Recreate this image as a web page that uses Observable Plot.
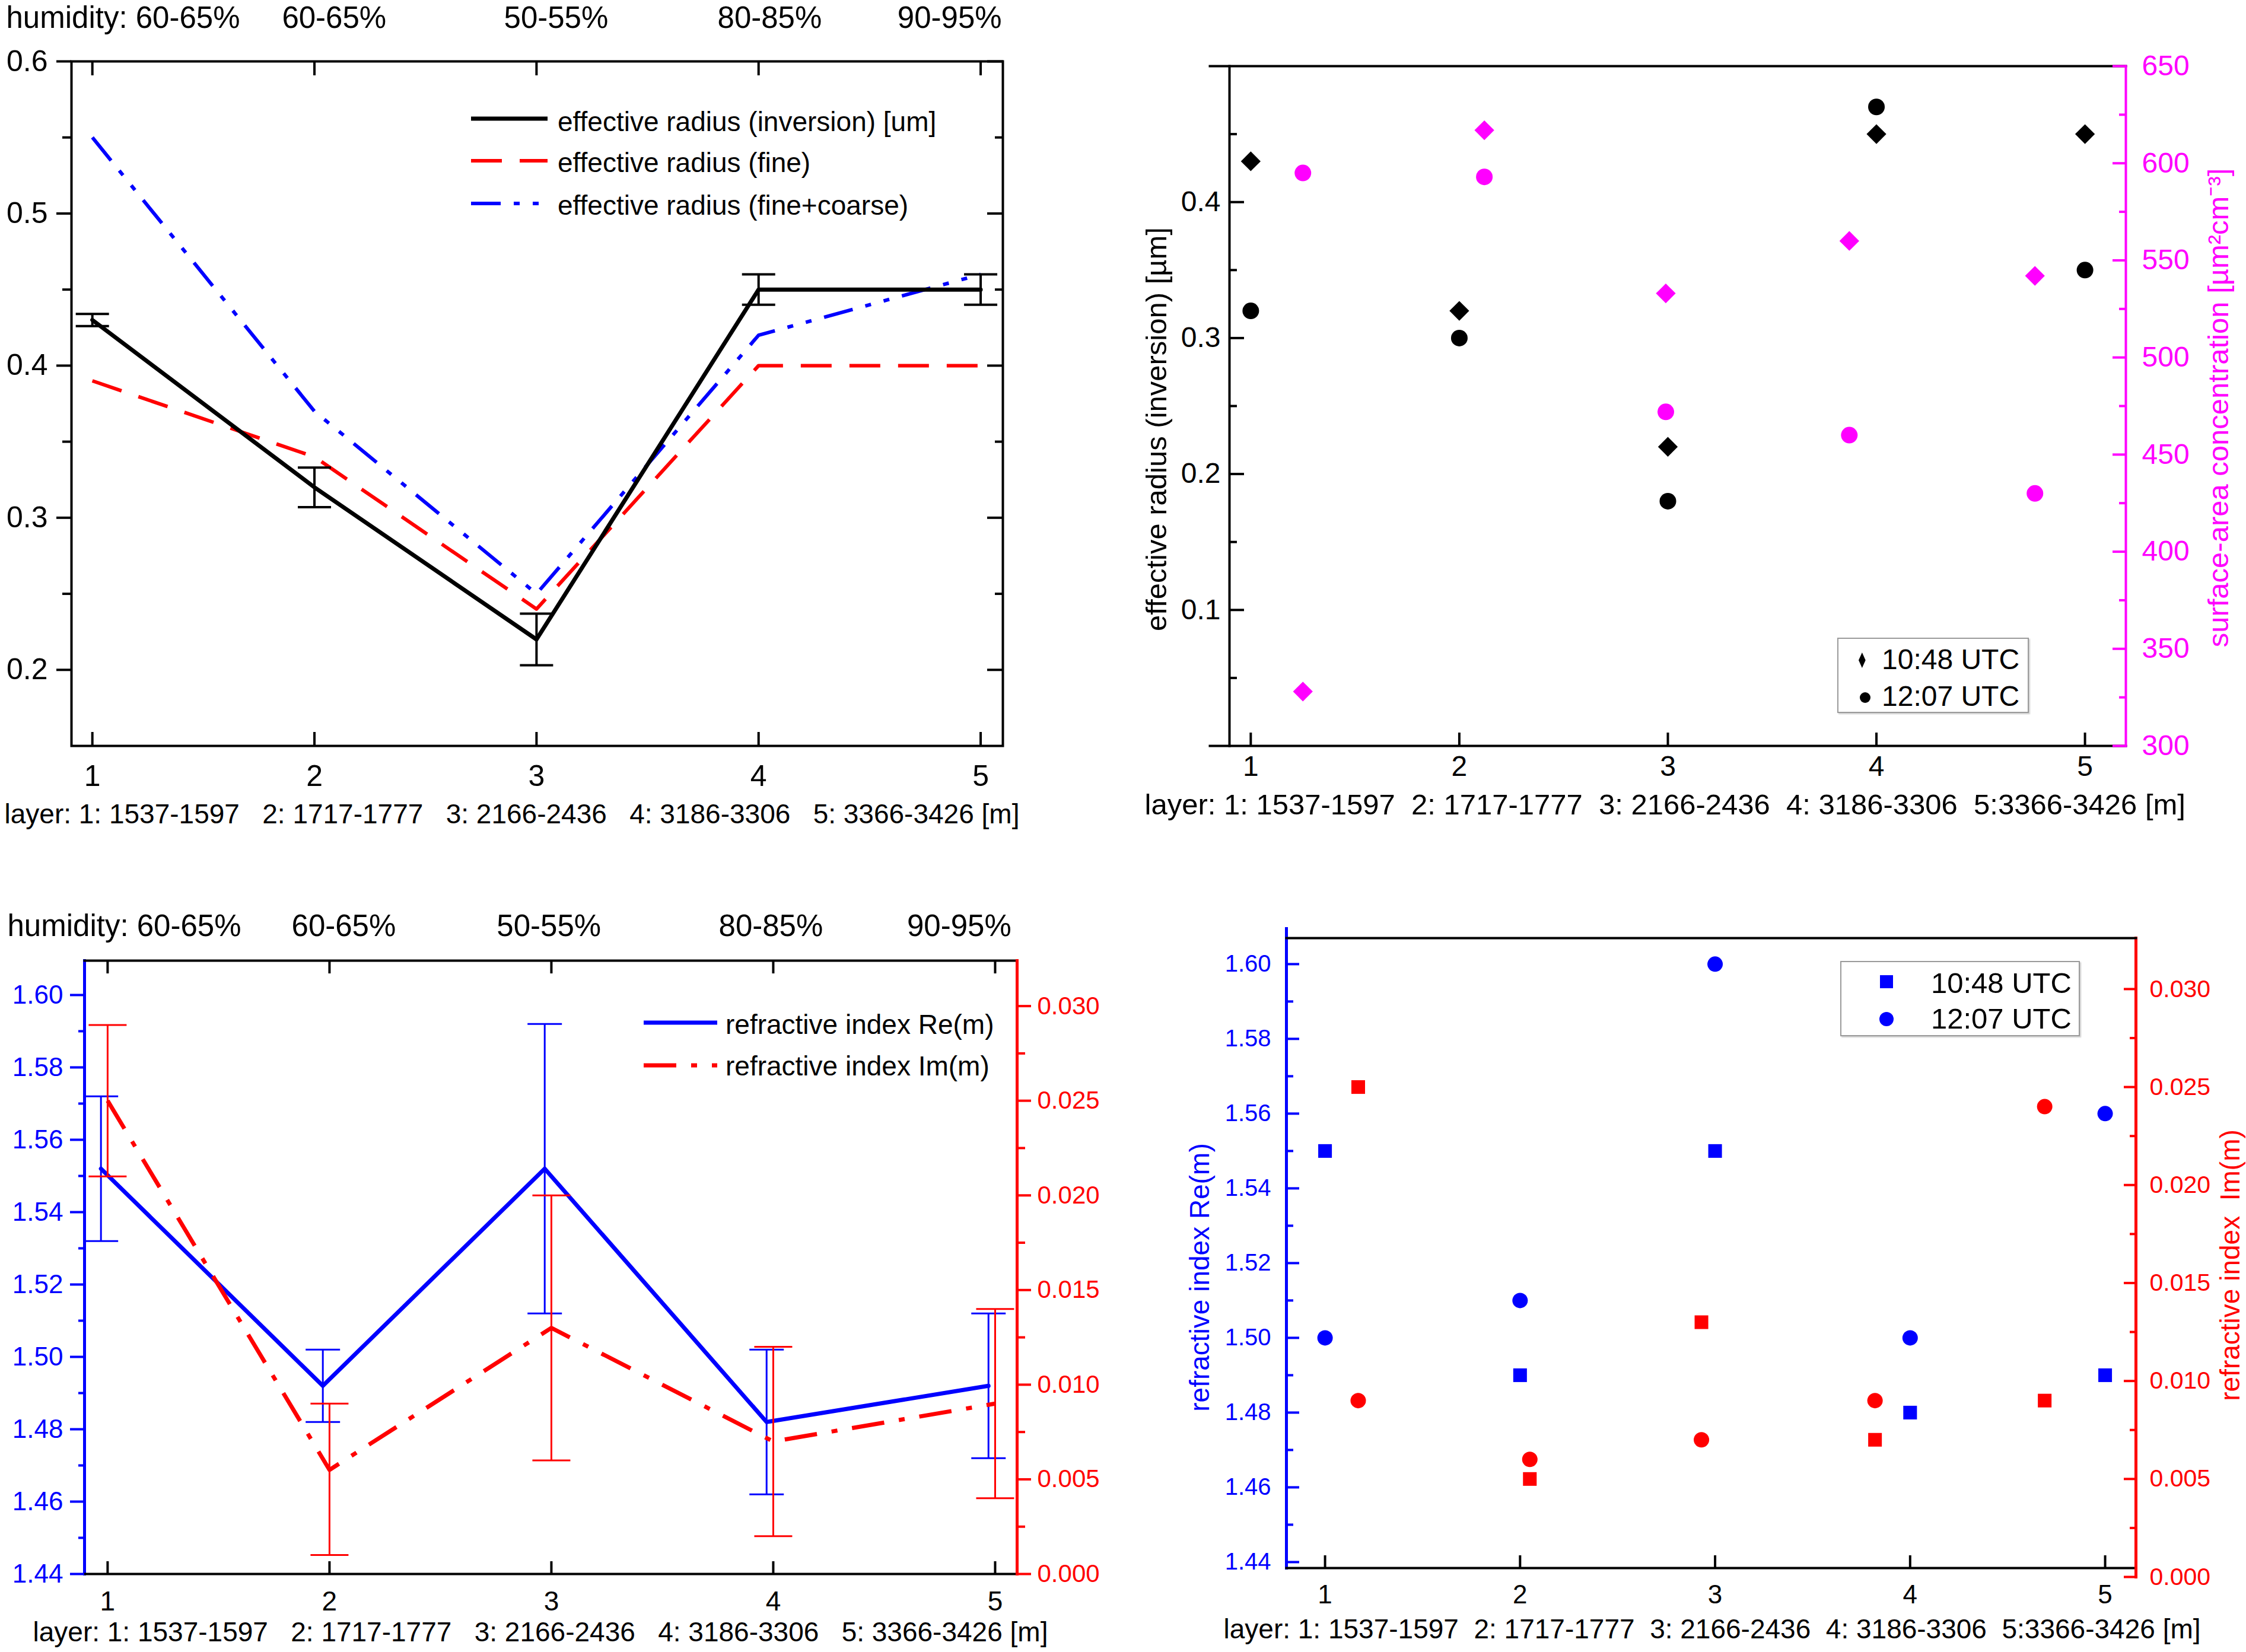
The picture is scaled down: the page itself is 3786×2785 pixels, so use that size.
<!DOCTYPE html>
<html>
<head>
<meta charset="utf-8">
<script src="https://cdn.jsdelivr.net/npm/d3@7"></script>
<script src="https://cdn.jsdelivr.net/npm/@observablehq/plot@0.6"></script>
<style>
html, body { margin: 0; padding: 0; background: #fff; }
#fig { position: relative; width: 3786px; height: 2785px; background: #fff; overflow: hidden; }
#fig svg text { white-space: pre; }
</style>
</head>
<body>
<div id="fig"></div>
<script>
// ---------------- data ----------------
const layers = [1, 2, 3, 4, 5];
const humidityLabels = ["humidity: 60-65%", "60-65%", "50-55%", "80-85%", "90-95%"];
const layerRanges = ["1537-1597", "1717-1777", "2166-2436", "3186-3306", "3366-3426"];

// panel A: effective radius vs layer
const reffInversion = [0.43, 0.32, 0.22, 0.45, 0.45];
const reffInversionErr = [0.004, 0.013, 0.017, 0.01, 0.01];
const reffFine = [0.39, 0.34, 0.24, 0.40, 0.40];
const reffFineCoarse = [0.55, 0.37, 0.25, 0.42, 0.46];

// panel B: effective radius (left) and surface-area concentration (right)
const reff1048 = [0.43, 0.32, 0.22, 0.45, 0.45];
const reff1207 = [0.32, 0.30, 0.18, 0.47, 0.35];
const surfX = [1.25, 2.12, 2.99, 3.87, 4.76];
const surf1048 = [328, 617, 533, 560, 542];
const surf1207 = [595, 593, 472, 460, 430];

// panel C: refractive index with error bars
const reX = [0.97, 1.97, 2.97, 3.97, 4.97];
const reMean = [1.552, 1.492, 1.552, 1.482, 1.492];
const reLow = [1.532, 1.482, 1.512, 1.462, 1.472];
const reHigh = [1.572, 1.502, 1.592, 1.502, 1.512];
const imMean = [0.025, 0.0055, 0.013, 0.007, 0.009];
const imLow = [0.021, 0.001, 0.006, 0.002, 0.004];
const imHigh = [0.029, 0.009, 0.020, 0.012, 0.014];

// panel D: refractive index at two times
const re1048 = [1.55, 1.49, 1.55, 1.48, 1.49];
const re1207 = [1.50, 1.51, 1.60, 1.50, 1.56];
const imX = [1.17, 2.05, 2.93, 3.82, 4.69];
const im1048 = [0.025, 0.005, 0.013, 0.007, 0.009];
const im1207 = [0.009, 0.006, 0.007, 0.009, 0.024];

// tick values
const majorA = [0.2, 0.3, 0.4, 0.5, 0.6];
const minorA = [0.25, 0.35, 0.45, 0.55];
const majorB = [0.1, 0.2, 0.3, 0.4];
const minorB = [0.05, 0.15, 0.25, 0.35, 0.45];
const majorS = [300, 350, 400, 450, 500, 550, 600, 650];
const minorS = [325, 375, 425, 475, 525, 575, 625];
const majorRe = [1.44, 1.46, 1.48, 1.50, 1.52, 1.54, 1.56, 1.58, 1.60];
const minorRe = [1.45, 1.47, 1.49, 1.51, 1.53, 1.55, 1.57, 1.59];
const majorIm = [0, 0.005, 0.010, 0.015, 0.020, 0.025, 0.030];
const minorIm = [0.0025, 0.0075, 0.0125, 0.0175, 0.0225, 0.0275];

// ---------------- tables ----------------
const dataA = layers.map((l, i) => ({layer: l, inv: reffInversion[i], err: reffInversionErr[i], fine: reffFine[i], fc: reffFineCoarse[i]}));
const dataB = layers.map((l, i) => ({layer: l, a: reff1048[i], b: reff1207[i]}));
const dataS = layers.map((l, i) => ({x: surfX[i], a: surf1048[i], b: surf1207[i]}));
const dataRe = layers.map((l, i) => ({x: reX[i], v: reMean[i], lo: reLow[i], hi: reHigh[i]}));
const dataIm = layers.map((l, i) => ({x: l, v: imMean[i], lo: imLow[i], hi: imHigh[i]}));
const dataDR = layers.map((l, i) => ({x: l, a: re1048[i], b: re1207[i]}));
const dataDI = layers.map((l, i) => ({x: imX[i], a: im1048[i], b: im1207[i]}));

// ---------------- helpers ----------------
const W = 3786, H = 2785;
const BLUE = "#0000ff", RED = "#ff0000", MAG = "#ff00ff";
const FONT = "'Liberation Sans', Arial, Helvetica, sans-serif";
const fig = document.getElementById("fig");

function panel({x, y, L, R, T, B, marks, overlay = false}) {
  const svg = Plot.plot({
    width: W, height: H,
    marginLeft: L, marginRight: W - R, marginTop: T, marginBottom: H - B,
    x: overlay ? {domain: x, axis: null} : {domain: x},
    y: {domain: y},
    style: {background: "transparent", fontFamily: FONT, fontSize: "46px", overflow: "visible",
            maxWidth: "none", position: "absolute", left: "0px", top: "0px"},
    marks
  });
  fig.appendChild(svg);
}
const cap = {draw(ctx, size) { const r = Math.sqrt(size / Math.PI); ctx.moveTo(-r, 0); ctx.lineTo(r, 0); }};
function caps(data, r, color, w) {
  return [
    Plot.dot(data, {x: "x", y: "lo", symbol: cap, r, fill: "none", stroke: color, strokeWidth: w}),
    Plot.dot(data, {x: "x", y: "hi", symbol: cap, r, fill: "none", stroke: color, strokeWidth: w})
  ];
}
function yTicks(anchor, ticks, size, inward, color = "black") {
  return Plot.axisY({anchor, ticks, tickSize: size, dx: inward ? (anchor === "left" ? size : -size) : 0,
    fill: "none", label: null, stroke: color, strokeWidth: 4});
}
function xTicks(anchor, ticks, size, color = "black") {
  return Plot.axisX({anchor, ticks, tickSize: size, dy: anchor === "top" ? size : -size,
    fill: "none", label: null, stroke: color, strokeWidth: 4});
}
function yLabels(anchor, ticks, fmt, size, padding, color, fontSize) {
  return Plot.axisY({anchor, ticks, tickFormat: fmt, tickSize: size, tickPadding: padding,
    stroke: color, fill: color, fontSize, label: null, strokeWidth: 4});
}
function xLabels(padding, fontSize) {
  return Plot.axisX({anchor: "bottom", ticks: layers, tickFormat: "d", tickSize: 0, tickPadding: padding, fontSize, label: null});
}
function note(text, o) {
  return Plot.text([text], Object.assign({text: d => d, textAnchor: "start", lineAnchor: "middle"}, o));
}
function spaced(labels, gaps) {
  return labels.reduce((s, t, i) => i ? s + " ".repeat(gaps[i - 1]) + t : t, "");
}
const layerLineWide = "layer: " + layerRanges.map((r, i) => `${i + 1}: ${r}`).join("   ") + " [m]";
const layerLineTight = "layer: " + layerRanges.map((r, i) => i === 4 ? `${i + 1}:${r}` : `${i + 1}: ${r}`).join("  ") + " [m]";

// ---------------- panel A ----------------
panel({
  x: [0.906, 5.10], y: [0.15, 0.6], L: 120, R: 1690, T: 103, B: 1257,
  marks: [
    Plot.line(dataA, {x: "layer", y: "fc", stroke: BLUE, strokeWidth: 6, strokeDasharray: "50,22,10,22,10,22", strokeLinecap: "butt"}),
    Plot.line(dataA, {x: "layer", y: "fine", stroke: RED, strokeWidth: 6, strokeDasharray: "52,30", strokeLinecap: "butt"}),
    Plot.ruleX(dataA, {x: "layer", y1: d => d.inv - d.err, y2: d => d.inv + d.err, stroke: "black", strokeWidth: 4}),
    ...caps(dataA.map(d => ({x: d.layer, lo: d.inv - d.err, hi: d.inv + d.err})), 28, "black", 4),
    Plot.line(dataA, {x: "layer", y: "inv", stroke: "black", strokeWidth: 7}),
    Plot.frame({stroke: "black", strokeWidth: 4}),
    yLabels("left", majorA, ".1f", 25, 15, "black", 50),
    yTicks("left", minorA, 15, false),
    yTicks("right", majorA, 27, true),
    yTicks("right", minorA, 14, true),
    xTicks("top", layers, 23),
    xTicks("bottom", layers, 23),
    xLabels(32, 50),
    note(spaced(humidityLabels, [5, 14, 13, 9]), {frameAnchor: "top-left", dx: -110, dy: -73, fontSize: 51}),
    note(layerLineWide, {frameAnchor: "bottom-left", dx: -113, dy: 116, fontSize: 46})
  ]
});

// ---------------- panel B ----------------
const xB = [0.898, 5.196];
panel({
  x: xB, y: [0, 0.5], L: 2072, R: 3583, T: 111, B: 1257,
  marks: [
    Plot.dot(dataB, {x: "layer", y: "a", symbol: "diamond2", r: 15, fill: "black"}),
    Plot.dot(dataB, {x: "layer", y: "b", symbol: "circle", r: 14, fill: "black"}),
    Plot.frame({anchor: "left", stroke: "black", strokeWidth: 4}),
    Plot.frame({anchor: "top", insetLeft: -33, stroke: "black", strokeWidth: 4}),
    Plot.frame({anchor: "bottom", insetLeft: -33, stroke: "black", strokeWidth: 4}),
    yLabels("left", majorB, ".1f", 0, 15, "black", 48),
    yTicks("left", majorB, 25, true),
    yTicks("left", minorB, 13, true),
    xTicks("bottom", layers, 22),
    xLabels(16, 48),
    Plot.text(["effective radius (inversion) [\u00b5m]"], {text: d => d, frameAnchor: "left", rotate: -90, dx: -122, dy: 39, fontSize: 49, textAnchor: "middle", lineAnchor: "middle"}),
    note(layerLineTight, {frameAnchor: "bottom-left", dx: -143, dy: 100, fontSize: 49})
  ]
});
panel({
  overlay: true,
  x: xB, y: [300, 650], L: 2072, R: 3583, T: 111, B: 1257,
  marks: [
    Plot.dot(dataS, {x: "x", y: "a", symbol: "diamond2", r: 15, fill: MAG}),
    Plot.dot(dataS, {x: "x", y: "b", symbol: "circle", r: 14, fill: MAG}),
    Plot.frame({anchor: "right", stroke: MAG, strokeWidth: 4}),
    yLabels("right", majorS, "d", 0, 27, MAG, 48),
    yTicks("right", majorS, 23, true, MAG),
    yTicks("right", minorS, 12, true, MAG),
    Plot.text(["surface-area concentration [\u00b5m\u00b2cm\u207b\u00b3]"], {text: d => d, frameAnchor: "right", rotate: -90, dx: 157, dy: 3, fill: MAG, fontSize: 49, textAnchor: "middle", lineAnchor: "middle"})
  ]
});

// ---------------- panel C ----------------
const xC = [0.896, 5.099];
panel({
  x: xC, y: [1.44, 1.6095], L: 142, R: 1714, T: 1619, B: 2653,
  marks: [
    Plot.ruleX(dataRe, {x: "x", y1: "lo", y2: "hi", stroke: BLUE, strokeWidth: 3}),
    ...caps(dataRe, 29, BLUE, 3),
    Plot.line(dataRe, {x: "x", y: "v", stroke: BLUE, strokeWidth: 7}),
    Plot.frame({anchor: "left", stroke: BLUE, strokeWidth: 5}),
    Plot.frame({anchor: "top", stroke: "black", strokeWidth: 4}),
    Plot.frame({anchor: "bottom", stroke: "black", strokeWidth: 4}),
    yLabels("left", majorRe, ".2f", 24, 12, BLUE, 44),
    yTicks("left", minorRe, 10, false, BLUE),
    xTicks("top", layers, 21),
    xTicks("bottom", layers, 21),
    xLabels(29, 46),
    note(spaced(humidityLabels, [6, 12, 14, 10]), {frameAnchor: "top-left", dx: -130, dy: -58, fontSize: 51}),
    note(layerLineWide, {frameAnchor: "bottom-left", dx: -87, dy: 99, fontSize: 46})
  ]
});
panel({
  overlay: true,
  x: xC, y: [0, 0.0324], L: 142, R: 1714, T: 1619, B: 2653,
  marks: [
    Plot.ruleX(dataIm, {x: "x", y1: "lo", y2: "hi", stroke: RED, strokeWidth: 3}),
    ...caps(dataIm, 32, RED, 3),
    Plot.line(dataIm, {x: "x", y: "v", stroke: RED, strokeWidth: 7, strokeDasharray: "55,25,10,25", strokeLinecap: "butt"}),
    Plot.frame({anchor: "right", stroke: RED, strokeWidth: 5}),
    yLabels("right", majorIm, ".3f", 23, 11, RED, 42),
    yTicks("right", minorIm, 13, false, RED)
  ]
});

// ---------------- panel D ----------------
const xD = [0.802, 5.158];
panel({
  x: xD, y: [1.4384, 1.6095], L: 2168, R: 3600, T: 1565, B: 2643,
  marks: [
    Plot.dot(dataDR, {x: "x", y: "a", symbol: "square", r: 13, fill: BLUE}),
    Plot.dot(dataDR, {x: "x", y: "b", symbol: "circle", r: 13, fill: BLUE}),
    Plot.frame({anchor: "left", stroke: BLUE, strokeWidth: 5}),
    Plot.frame({anchor: "bottom", stroke: "black", strokeWidth: 4}),
    yLabels("left", majorRe, ".2f", 0, 26, BLUE, 40),
    yTicks("left", majorRe, 22, true, BLUE),
    yTicks("left", minorRe, 12, true, BLUE),
    xTicks("bottom", layers, 21),
    xLabels(28, 44),
    Plot.text(["refractive index Re(m)"], {text: d => d, frameAnchor: "left", rotate: -90, dx: -145, dy: 49, fill: BLUE, fontSize: 46, textAnchor: "middle", lineAnchor: "middle"}),
    note(layerLineTight, {frameAnchor: "bottom-left", dx: -106, dy: 104, fontSize: 46})
  ]
});
panel({
  overlay: true,
  x: xD, y: [0, 0.0326], L: 2168, R: 3600, T: 1581, B: 2658,
  marks: [
    Plot.dot(dataDI, {x: "x", y: "a", symbol: "square", r: 13, fill: RED}),
    Plot.dot(dataDI, {x: "x", y: "b", symbol: "circle", r: 13, fill: RED}),
    Plot.frame({anchor: "right", stroke: RED, strokeWidth: 5}),
    Plot.frame({anchor: "top", stroke: "black", strokeWidth: 4}),
    yLabels("right", majorIm, ".3f", 0, 23, RED, 41),
    yTicks("right", majorIm, 21, true, RED),
    yTicks("right", minorIm, 11, true, RED),
    Plot.text(["refractive index  Im(m)"], {text: d => d, frameAnchor: "right", rotate: -90, dx: 160, dy: 13, fill: RED, fontSize: 46, textAnchor: "middle", lineAnchor: "middle"})
  ]
});

// ---------------- legends (HTML) ----------------
function add(html) { fig.insertAdjacentHTML("beforeend", html); }
function legendLine(x1, x2, y, color, width, dash) {
  add(`<svg style="position:absolute;left:${x1}px;top:${y - 10}px;overflow:visible" width="${x2 - x1}" height="20"><line x1="0" y1="10" x2="${x2 - x1}" y2="10" stroke="${color}" stroke-width="${width}"${dash ? ` stroke-dasharray="${dash}"` : ""}/></svg>`);
}
function legendText(x, y, text, size, color = "black") {
  add(`<div style="position:absolute;left:${x}px;top:${y}px;transform:translateY(-50%);font-family:${FONT};font-size:${size}px;line-height:1;white-space:pre;color:${color}">${text}</div>`);
}
function legendBox(x, y, w, h) {
  add(`<div style="position:absolute;left:${x}px;top:${y}px;width:${w}px;height:${h}px;border:2px solid #9a9a9a;box-shadow:2px 2px 2px #cfcfcf;background:#fff;box-sizing:border-box"></div>`);
}
function legendSymbol(cx, cy, shape, color, s) {
  let inner;
  if (shape === "diamond") inner = `<polygon points="${s * 0.45},0 ${s * 0.9},${s} ${s * 0.45},${2 * s} 0,${s}" fill="${color}"/>`;
  else if (shape === "square") inner = `<rect x="0" y="0" width="${2 * s}" height="${2 * s}" fill="${color}"/>`;
  else inner = `<circle cx="${s}" cy="${s}" r="${s}" fill="${color}"/>`;
  const w = shape === "diamond" ? s * 0.9 : 2 * s;
  add(`<svg style="position:absolute;left:${cx - w / 2}px;top:${cy - s}px;overflow:visible" width="${w}" height="${2 * s}">${inner}</svg>`);
}

// panel A legend
legendLine(794, 923, 200, "black", 7);
legendLine(794, 923, 271, RED, 6, "52,30");
legendLine(794, 923, 343, BLUE, 6, "50,22,10,22,10,22");
legendText(940, 205, "effective radius (inversion) [um]", 46);
legendText(940, 274, "effective radius (fine)", 46);
legendText(940, 346, "effective radius (fine+coarse)", 46);

// panel B legend
legendBox(3097, 1075, 323, 127);
legendSymbol(3139, 1113, "diamond", "black", 13);
legendSymbol(3144, 1176, "circle", "black", 9);
legendText(3172, 1112, "10:48 UTC", 48);
legendText(3172, 1174, "12:07 UTC", 48);

// panel C legend
legendLine(1085, 1209, 1724, BLUE, 7);
legendLine(1085, 1209, 1796, RED, 7, "55,25,10,25");
legendText(1223, 1727, "refractive index Re(m)", 46);
legendText(1223, 1797, "refractive index Im(m)", 46);

// panel D legend
legendBox(3102, 1620, 404, 127);
legendSymbol(3180, 1655, "square", BLUE, 11);
legendSymbol(3180, 1718, "circle", BLUE, 12);
legendText(3255, 1657, "10:48 UTC", 49);
legendText(3255, 1717, "12:07 UTC", 49);
</script>
</body>
</html>
